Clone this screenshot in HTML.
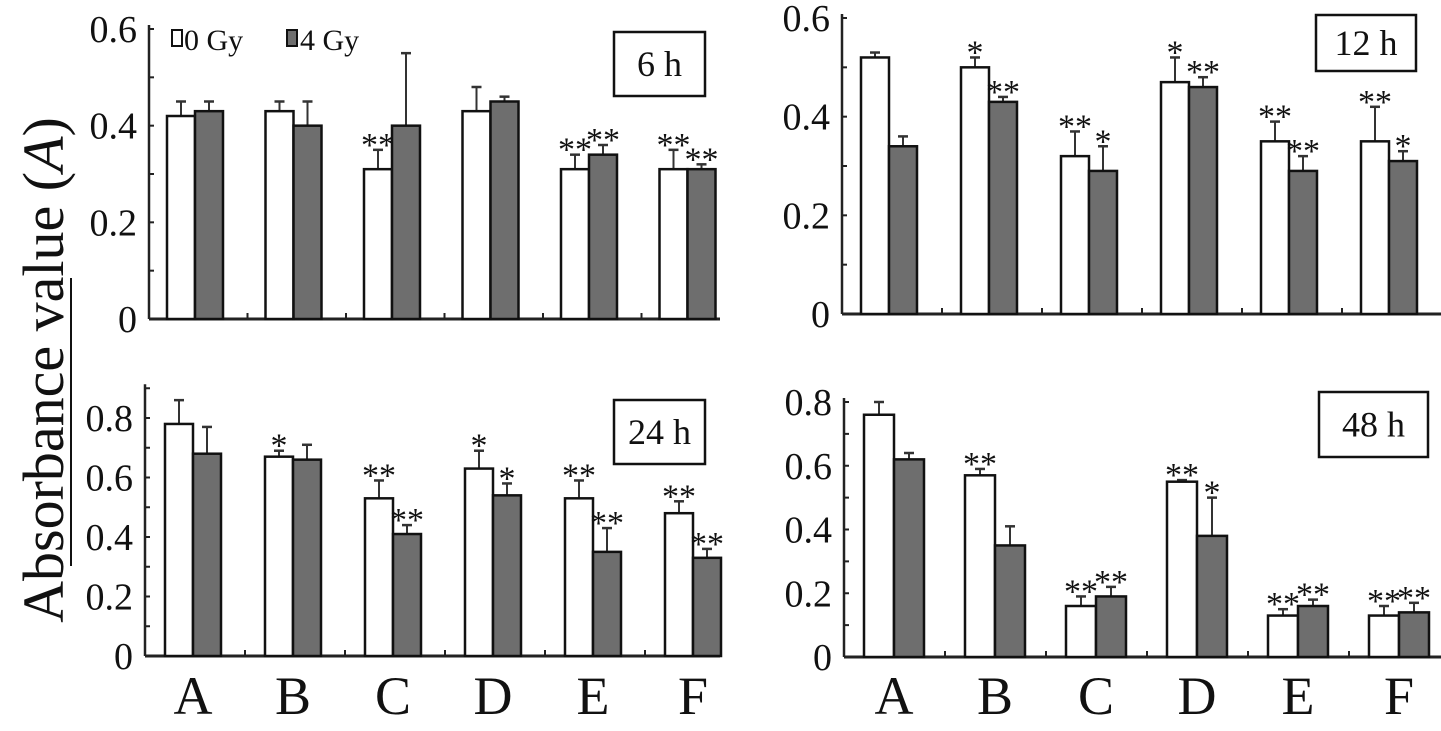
<!DOCTYPE html>
<html><head><meta charset="utf-8"><style>
html,body{margin:0;padding:0;background:#fff;}
svg{display:block;}
svg text{font-family:"Liberation Serif","Times New Roman","DejaVu Serif",serif;}
</style></head><body>
<svg id="chart" width="1441" height="731" viewBox="0 0 1441 731" xmlns="http://www.w3.org/2000/svg">
<g>
<text transform="translate(63,370) rotate(-90)" text-anchor="middle" font-size="58" fill="#111">Absorbance value (<tspan font-style="italic">A</tspan>)</text>
<line x1="71" y1="278" x2="71" y2="566" stroke="#111" stroke-width="2"/>
</g>
<g>
<rect x="172" y="30" width="10" height="16" fill="#fff" stroke="#111" stroke-width="2"/>
<text x="184" y="50" font-size="30" fill="#111">0 Gy</text>
<rect x="287" y="30" width="10" height="16" fill="#6e6e6e" stroke="#111" stroke-width="2"/>
<text x="300" y="50" font-size="30" fill="#111">4 Gy</text>
</g>
</svg>
<script>
const categories=["A","B","C","D","E","F"];
const w6=[0.42,0.43,0.31,0.43,0.31,0.31];
const w6e=[0.03,0.02,0.04,0.05,0.03,0.04];
const g6=[0.43,0.40,0.40,0.45,0.34,0.31];
const g6e=[0.02,0.05,0.15,0.01,0.02,0.01];
const w6s=["","","**","","**","**"];
const g6s=["","","","","**","**"];
const w12=[0.52,0.50,0.32,0.47,0.35,0.35];
const w12e=[0.01,0.02,0.05,0.05,0.04,0.07];
const g12=[0.34,0.43,0.29,0.46,0.29,0.31];
const g12e=[0.02,0.01,0.05,0.02,0.03,0.02];
const w12s=["","*","**","*","**","**"];
const g12s=["","**","*","**","**","*"];
const w24=[0.78,0.67,0.53,0.63,0.53,0.48];
const w24e=[0.08,0.02,0.06,0.06,0.06,0.04];
const g24=[0.68,0.66,0.41,0.54,0.35,0.33];
const g24e=[0.09,0.05,0.03,0.04,0.08,0.03];
const w24s=["","*","**","*","**","**"];
const g24s=["","","**","*","**","**"];
const w48=[0.76,0.57,0.16,0.55,0.13,0.13];
const w48e=[0.04,0.02,0.03,0.005,0.02,0.03];
const g48=[0.62,0.35,0.19,0.38,0.16,0.14];
const g48e=[0.02,0.06,0.03,0.12,0.02,0.03];
const w48s=["","**","**","**","**","**"];
const g48s=["","","**","*","**","**"];
const ticks6=[0,0.2,0.4,0.6];
const ticks8=[0,0.2,0.4,0.6,0.8];
const NS="http://www.w3.org/2000/svg";
const svg=document.getElementById('chart');
function mk(tag,attrs,parent){const e=document.createElementNS(NS,tag);for(const k in attrs)e.setAttribute(k,attrs[k]);parent.appendChild(e);return e;}
const panels=[
 {id:"6h",label:"6 h",ax:149,x1:720,y0:319,ymax:0.6,ytop:29,top:0.6,gw:98.5,off:18,bw:28,w:w6,we:w6e,g:g6,ge:g6e,ws:w6s,gs:g6s,ticks:ticks6,box:[614,32,91,64],xl:false},
 {id:"12h",label:"12 h",ax:842,x1:1441,y0:314,ymax:0.6,ytop:18,top:0.6,gw:100,off:19,bw:28,w:w12,we:w12e,g:g12,ge:g12e,ws:w12s,gs:g12s,ticks:ticks6,box:[1316,15,100,56],xl:false},
 {id:"24h",label:"24 h",ax:145,x1:720,y0:656,ymax:0.8,ytop:418,top:0.9,gw:100,off:20,bw:28,w:w24,we:w24e,g:g24,ge:g24e,ws:w24s,gs:g24s,ticks:ticks8,box:[614,400,91,64],xl:true},
 {id:"48h",label:"48 h",ax:844,x1:1441,y0:657,ymax:0.8,ytop:402,top:0.8,gw:101,off:20,bw:30,w:w48,we:w48e,g:g48,ge:g48e,ws:w48s,gs:g48s,ticks:ticks8,box:[1319,392,109,65],xl:true}
];
panels.forEach(p=>{
 const g=mk('g',{},svg);
 
 
 const ys=v=>p.y0-(v/p.ymax)*(p.y0-p.ytop);
 const topY=ys(p.top)-4;
 const yax=mk('line',{x1:p.ax,y1:topY,x2:p.ax,y2:p.y0,stroke:'#222','stroke-width':2.5},g);
 
 
 const xax=mk('line',{x1:p.ax,y1:p.y0,x2:p.x1,y2:p.y0,stroke:'#222','stroke-width':3},g);
 
 
 for(let v=0;v<=p.top+1e-9;v+=0.1){mk('line',{x1:p.ax,y1:ys(v),x2:p.ax+5,y2:ys(v),stroke:'#222','stroke-width':2},g);}
 p.ticks.forEach(t=>{
  const tx=mk('text',{x:p.ax-12,y:ys(t)+13,'text-anchor':'end','font-size':38,fill:'#111'},g);
  tx.textContent=t===0?'0':t.toFixed(1);
  
  
 });
 for(let i=1;i<6;i++){const x=p.ax+i*p.gw;mk('line',{x1:x,y1:p.y0,x2:x,y2:p.y0-6,stroke:'#222','stroke-width':2},g);}
 categories.forEach((c,i)=>{
  const bx=p.ax+i*p.gw+p.off;
  [[p.w,p.we,p.ws,'#fff',0],[p.g,p.ge,p.gs,'#6e6e6e',1]].forEach(([vals,errs,stars,fill,k])=>{
   const x=bx+k*p.bw, y=ys(vals[i]), ye=ys(vals[i]+errs[i]);
   const cx=x+p.bw/2;
   const el=mk('line',{x1:cx,y1:y,x2:cx,y2:ye,stroke:'#333','stroke-width':2},g);
   
   
   mk('line',{x1:cx-5,y1:ye,x2:cx+5,y2:ye,stroke:'#333','stroke-width':2.5},g);
   const r=mk('rect',{x:x,y:y,width:p.bw,height:p.y0-y,fill:fill,stroke:'#111','stroke-width':2.5},g);
   
   
   if(stars[i]){
    const s=mk('text',{x:cx,y:ye+6,'text-anchor':'middle','font-size':34,fill:'#111'},g);
    s.textContent=stars[i];
    
    
   }
  });
  if(p.xl){
   const lt=mk('text',{x:bx+p.bw,y:714,'text-anchor':'middle','font-size':54,fill:'#111'},g);
   lt.textContent=c;
   
   
  }
 });
 const b=p.box;
 const br=mk('rect',{x:b[0],y:b[1],width:b[2],height:b[3],fill:'#fff',stroke:'#111','stroke-width':2.5},g);
 
 
 const bt=mk('text',{x:b[0]+b[2]/2,y:b[1]+b[3]/2+12,'text-anchor':'middle','font-size':36,fill:'#111'},g);
 bt.textContent=p.label;
 
 
});
</script>
</body></html>
